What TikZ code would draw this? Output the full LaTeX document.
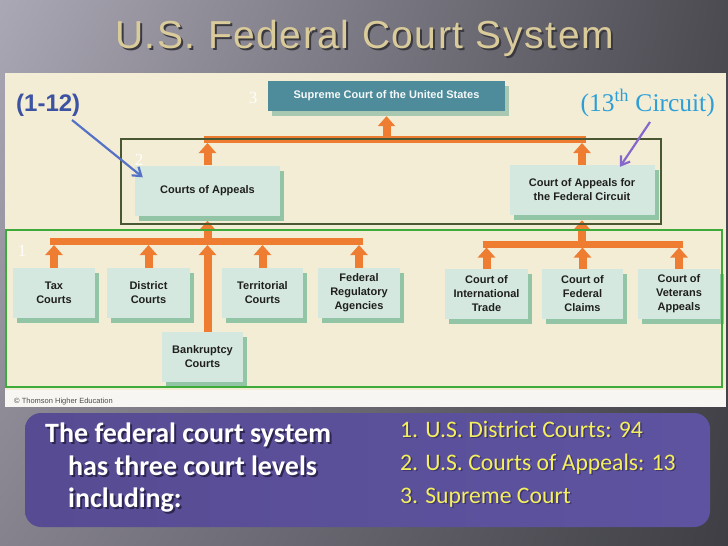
\documentclass[tikz,border=0pt]{standalone}
\usepackage{fontspec}
\setmainfont{Liberation Sans}
\newfontfamily\titlefont{Liberation Sans}[LetterSpace=4.0]
\newfontfamily\seriffont{Liberation Serif}
\newfontfamily\calfont{Carlito}
\usetikzlibrary{arrows.meta,shadows,shadings}
\definecolor{bgUL}{HTML}{ABA8B5}
\definecolor{bgUR}{HTML}{4C4B52}
\definecolor{bgLL}{HTML}{85828E}
\definecolor{bgLR}{HTML}{3E3E44}
\definecolor{titletan}{HTML}{DACB9B}
\definecolor{titleshade}{HTML}{3A393F}
\definecolor{cream}{HTML}{F3EDD6}
\definecolor{stripwhite}{HTML}{F7F6F2}
\definecolor{orangebar}{HTML}{EE7D32}
\definecolor{boxfront}{HTML}{D5E8DF}
\definecolor{boxside}{HTML}{92C5A6}
\definecolor{supfront}{HTML}{4E8C9B}
\definecolor{supside}{HTML}{A8C8B2}
\definecolor{darkframe}{HTML}{4A5733}
\definecolor{greenframe}{HTML}{3DAA3A}
\definecolor{blueA}{HTML}{3C52A2}
\definecolor{blueArrow}{HTML}{5672C6}
\definecolor{cyanA}{HTML}{2E9FD6}
\definecolor{purpleArrow}{HTML}{8668CC}
\definecolor{panel}{HTML}{574C93}
\definecolor{panelL}{HTML}{5E53A0}
\definecolor{panelshade}{HTML}{2C2650}
\definecolor{yellowshade}{HTML}{3D3670}
\definecolor{yellowtxt}{HTML}{F4EF5E}
\newcommand{\shadowed}[4]{\makebox[0pt][l]{\hspace*{#1}\raisebox{-#2}{\textcolor{#3}{#4}}}#4}
\begin{document}
\begin{tikzpicture}[x=1pt,y=-1pt,
  courtbox/.style={fill=boxfront, minimum height=50pt, inner sep=0pt, align=center,
    font=\bfseries\fontsize{11}{14}\selectfont, text=black!88,
    drop shadow={shadow xshift=4pt, shadow yshift=-5pt, fill=boxside, opacity=1}},
  supbox/.style={fill=supfront, minimum width=237pt, minimum height=30pt, inner sep=0pt,
    font=\bfseries\fontsize{11}{13}\selectfont, text=white!95!supfront,
    drop shadow={shadow xshift=4pt, shadow yshift=-5pt, fill=supside, opacity=1}},
  obar/.style={draw=orangebar, line width=7pt, line cap=butt},
  oarrow/.style={draw=orangebar, line width=8pt, -{Triangle[width=17pt,length=10pt]}},
  levellabel/.style={text=white, opacity=0.9, font=\seriffont\fontsize{17}{17}\selectfont, inner sep=0pt},
  pointer/.style={line width=2.2pt, -{Straight Barb[length=8pt,width=11pt]}},
  paneltext/.style={anchor=base west, inner sep=0pt}
]
\useasboundingbox (0,0) rectangle (728,546);
% background
\shade[upper left=bgUL, upper right=bgUR, lower left=bgLL, lower right=bgLR] (0,0) rectangle (728,546);
% title
\node[anchor=base, text=titletan, font=\titlefont\fontsize{39}{39}\selectfont] (title) at (364.5,48.5) {\shadowed{2pt}{2pt}{titleshade}{U.S. Federal Court System}};
% chart area
\fill[cream] (5,73) rectangle (726,390);
\fill[stripwhite] (5,390) rectangle (726,407);
\node[anchor=base west, inner sep=0pt, text=black!70, font=\fontsize{7.5}{8}\selectfont] (copyr) at (14,403.5) {\textcopyright\ Thomson Higher Education};

% nodes
\node[supbox] (sup) at (386.5,96) {Supreme Court of the United States};
\node[courtbox, minimum width=145pt] (coa) at (207.5,190.5) {Courts of Appeals};
\node[courtbox, minimum width=145pt] (fed) at (582,190) {Court of Appeals for\\the Federal Circuit};
\node[courtbox, minimum width=82pt] (tax) at (54,293) {Tax\\Courts};
\node[courtbox, minimum width=83pt] (dist) at (148.5,293) {District\\Courts};
\node[courtbox, minimum width=81pt] (terr) at (262.5,293) {Territorial\\Courts};
\node[courtbox, minimum width=82pt] (freg) at (359,293) {Federal\\Regulatory\\Agencies};
\node[courtbox, minimum width=83pt] (intl) at (486.5,294) {Court of\\International\\Trade};
\node[courtbox, minimum width=81pt] (claims) at (582.5,294) {Court of\\Federal\\Claims};
\node[courtbox, minimum width=82pt] (vet) at (679,294) {Court of\\Veterans\\Appeals};
\node[courtbox, minimum width=81pt] (bank) at (202.5,357) {Bankruptcy\\Courts};

% bar coordinates
\coordinate (tb) at (0,139.5);
\coordinate (tbt) at (0,136);
\coordinate (tbb) at (0,143);
\coordinate (lb) at (0,241.5);
\coordinate (lbt) at (0,238);
\coordinate (lbb) at (0,245);
\coordinate (rb) at (0,244);
\coordinate (rbt) at (0,240.5);
\coordinate (rbb) at (0,247.5);

% top level connectors
\draw[obar] ([xshift=-4pt]coa.north |- tb) -- ([xshift=4pt]fed.north |- tb);
\draw[oarrow] (sup.south |- tbt) -- ([yshift=-5pt]sup.south);
\draw[oarrow] (coa.north) -- (coa.north |- tbb);
\draw[oarrow] (fed.north) -- (fed.north |- tbb);

% left group
\draw[obar] ([xshift=-4pt]tax.north |- lb) -- ([xshift=4pt]freg.north |- lb);
\draw[oarrow] (coa.south |- lbt) -- ([yshift=-5pt]coa.south);
\draw[oarrow] (bank.north -| coa.south) -- (coa.south |- lbb);
\draw[oarrow] (tax.north) -- (tax.north |- lbb);
\draw[oarrow] (dist.north) -- (dist.north |- lbb);
\draw[oarrow] (terr.north) -- (terr.north |- lbb);
\draw[oarrow] (freg.north) -- (freg.north |- lbb);

% right group
\draw[obar] ([xshift=-4pt]intl.north |- rb) -- ([xshift=4pt]vet.north |- rb);
\draw[oarrow] (fed.south |- rbt) -- ([yshift=-5pt]fed.south);
\draw[oarrow] (intl.north) -- (intl.north |- rbb);
\draw[oarrow] (claims.north) -- (claims.north |- rbb);
\draw[oarrow] (vet.north) -- (vet.north |- rbb);

% level frames
\draw[darkframe, line width=1.6pt] (121,139) rectangle (661,224);
\draw[greenframe, line width=1.6pt] (6,230) rectangle (722,387);

% level labels
\node[levellabel] (l3) at (253,98) {3};
\node[levellabel] (l2) at (139,160) {2};
\node[levellabel] (l1) at (22,251) {1};

% annotations
\node[anchor=base west, inner sep=0pt, text=blueA, font=\bfseries\fontsize{24}{24}\selectfont] (r112) at (16,111) {(1-12)};
\node[anchor=base east, inner sep=0pt, text=cyanA, font=\seriffont\fontsize{25.5}{25.5}\selectfont] (r13) at (715,111) {(13\textsuperscript{th} Circuit)};
\coordinate (p1) at (72,120);
\coordinate (p2) at (650,122);
\draw[pointer, blueArrow] (p1) -- ([xshift=8pt,yshift=-12pt]coa.north west);
\draw[pointer, purpleArrow] (p2) -- ([xshift=38pt,yshift=-2pt]fed.north);

% bottom panel
\shade[left color=panel, right color=panelL, rounded corners=16pt] (25,413) rectangle (710,527);
\begin{scope}[font=\calfont\bfseries\fontsize{28}{28}\selectfont, text=white]
\node[paneltext] (t1) at (45,442) {\shadowed{2pt}{2pt}{panelshade}{The federal court system}};
\node[paneltext] (t2) at (68,475) {\shadowed{2pt}{2pt}{panelshade}{has three court levels}};
\node[paneltext] (t3) at (68,507) {\shadowed{2pt}{2pt}{panelshade}{including:}};
\end{scope}
\begin{scope}[font=\calfont\fontsize{23.7}{23.7}\selectfont, text=yellowtxt]
\node[paneltext] (y1) at (400,437) {\shadowed{1.5pt}{1.5pt}{yellowshade}{1. U.S. District Courts: 94}};
\node[paneltext] (y2) at (400,470) {\shadowed{1.5pt}{1.5pt}{yellowshade}{2. U.S. Courts of Appeals: 13}};
\node[paneltext] (y3) at (400,503) {\shadowed{1.5pt}{1.5pt}{yellowshade}{3. Supreme Court}};
\end{scope}
\end{tikzpicture}
\end{document}
